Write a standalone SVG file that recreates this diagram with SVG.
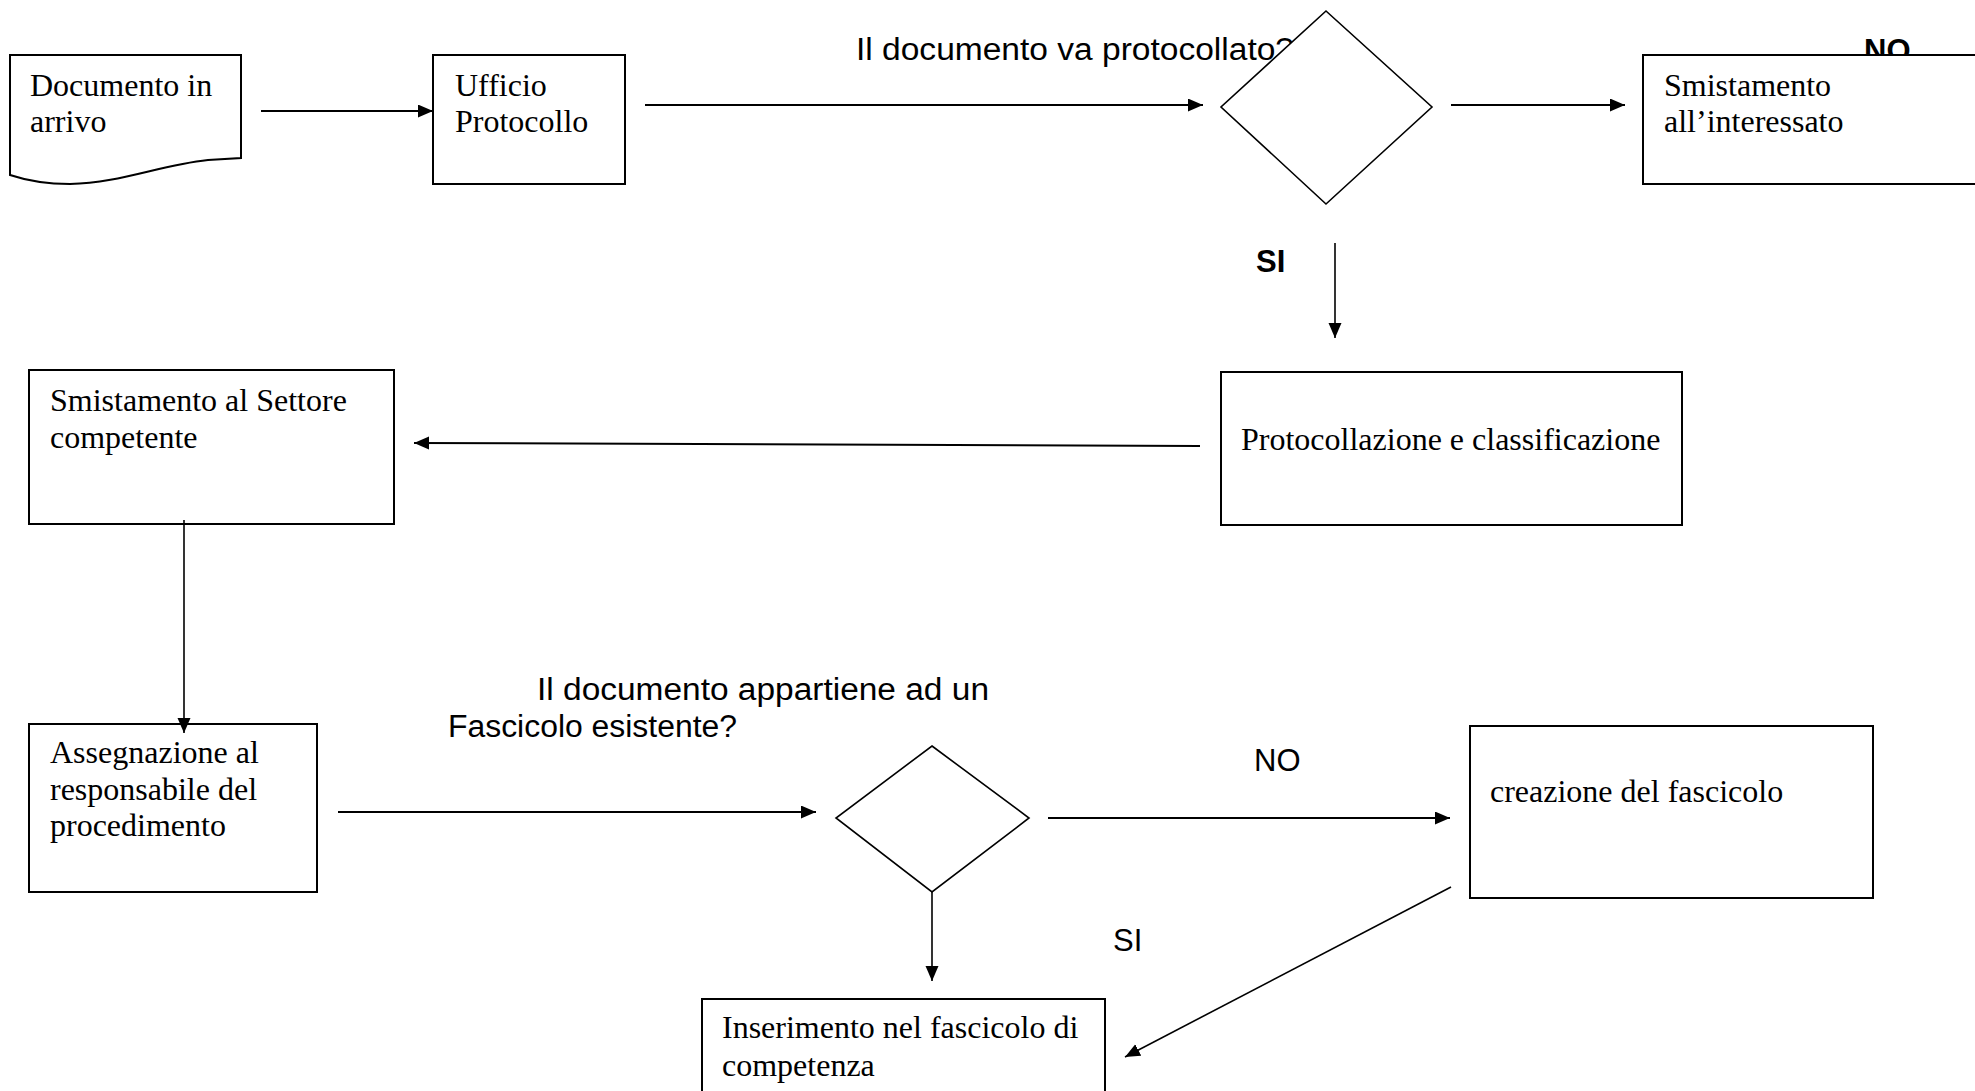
<svg xmlns="http://www.w3.org/2000/svg" width="1975" height="1091" viewBox="0 0 1975 1091">
<defs>
<marker id="ah" markerUnits="userSpaceOnUse" markerWidth="17" markerHeight="14" refX="15" refY="6.5" orient="auto">
<path d="M0,0 L15,6.5 L0,13 Z" fill="#000"/>
</marker>
<style>
.box{fill:#fff;stroke:#000;stroke-width:2}
.dia{fill:#fff;stroke:#000;stroke-width:1.6}
.ser{font-family:"Liberation Serif","Times New Roman",serif;font-size:32px;fill:#000}
.san{font-family:"Liberation Sans",Arial,sans-serif;font-size:31px;fill:#000}
.bold{font-weight:bold}
.cn line,.cn path{stroke:#000;stroke-width:2;fill:none;marker-end:url(#ah)}
.cn .thin{stroke-width:1.6}
</style>
</defs>
<rect width="1975" height="1091" fill="#fff"/>

<g id="documento">
<path class="box" d="M10,55 H241 V158 L208,160 C160,165 120,183 70,184 C45,184 25,180 10,175 Z"/>
<text class="ser" x="30" y="96">Documento in</text>
<text class="ser" x="30" y="132">arrivo</text>
</g>

<g id="ufficio">
<rect class="box" x="433" y="55" width="192" height="129"/>
<text class="ser" x="455" y="96">Ufficio</text>
<text class="ser" x="455" y="132">Protocollo</text>
</g>

<text class="san" x="856" y="60" textLength="438" lengthAdjust="spacingAndGlyphs">Il documento va protocollato?</text>
<g id="decisione1">
<polygon class="dia" points="1326,11 1432,107 1326,204 1221,107"/>
</g>

<text class="san bold" x="1864" y="61">NO</text>
<g id="smistamento-interessato">
<rect class="box" x="1643" y="55" width="360" height="129"/>
<text class="ser" x="1664" y="96">Smistamento</text>
<text class="ser" x="1664" y="132">all’interessato</text>
</g>

<text class="san bold" x="1256" y="272">SI</text>

<g id="protocollazione">
<rect class="box" x="1221" y="372" width="461" height="153"/>
<text class="ser" x="1241" y="450">Protocollazione e classificazione</text>
</g>

<g id="smistamento-settore">
<rect class="box" x="29" y="370" width="365" height="154"/>
<text class="ser" x="50" y="411">Smistamento al Settore</text>
<text class="ser" x="50" y="448">competente</text>
</g>

<g id="assegnazione">
<rect class="box" x="29" y="724" width="288" height="168"/>
<text class="ser" x="50" y="763">Assegnazione al</text>
<text class="ser" x="50" y="800">responsabile del</text>
<text class="ser" x="50" y="836">procedimento</text>
</g>

<text class="san" x="537" y="700" textLength="452" lengthAdjust="spacingAndGlyphs">Il documento appartiene ad un</text>
<text class="san" x="448" y="737" textLength="289" lengthAdjust="spacingAndGlyphs">Fascicolo esistente?</text>

<g id="decisione2">
<polygon class="dia" points="932,746 1029,818 932,892 836,818"/>
</g>

<text class="san" x="1254" y="771">NO</text>

<g id="creazione">
<rect class="box" x="1470" y="726" width="403" height="172"/>
<text class="ser" x="1490" y="802">creazione del fascicolo</text>
</g>

<text class="san" x="1113" y="951">SI</text>

<g id="inserimento">
<rect class="box" x="702" y="999" width="403" height="110"/>
<text class="ser" x="722" y="1038">Inserimento nel fascicolo di</text>
<text class="ser" x="722" y="1076">competenza</text>
</g>

<g id="connettori" class="cn">
<line x1="261" y1="111" x2="433" y2="111"/>
<line x1="645" y1="105" x2="1203" y2="105"/>
<line x1="1451" y1="105" x2="1625" y2="105"/>
<line class="thin" x1="1335" y1="243" x2="1335" y2="338"/>
<line x1="1200" y1="446" x2="414" y2="443"/>
<line class="thin" x1="184" y1="520" x2="184" y2="733"/>
<line x1="338" y1="812" x2="816" y2="812"/>
<line x1="1048" y1="818" x2="1450" y2="818"/>
<line class="thin" x1="932" y1="892" x2="932" y2="981"/>
<line class="thin" x1="1451" y1="887" x2="1125" y2="1057"/>
</g>
</svg>
